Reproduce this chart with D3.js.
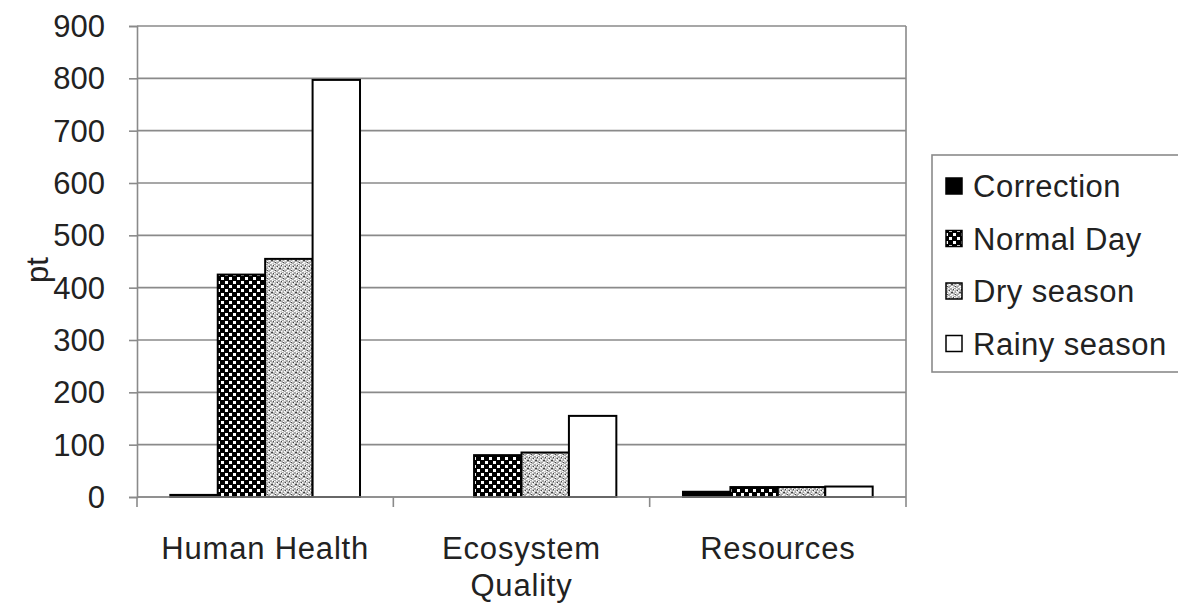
<!DOCTYPE html>
<html><head><meta charset="utf-8">
<script src="https://cdn.jsdelivr.net/npm/d3@7"></script>
<style>body{margin:0;background:#fff}svg{display:block}text{font-family:"Liberation Sans",Arial,sans-serif;fill:#222}</style>
</head><body><svg id="c" width="1178" height="607"></svg>
<script>
const categories = [["Human Health"], ["Ecosystem", "Quality"], ["Resources"]];
const seriesNames = ["Correction", "Normal Day", "Dry season", "Rainy season"];
const correction = [4, 0, 10];
const normalDay = [425, 80, 19];
const drySeason = [455, 85, 19];
const rainySeason = [797, 155, 20];
const yTicks = [0, 100, 200, 300, 400, 500, 600, 700, 800, 900];
const yLabel = "pt";

const seriesValues = [correction, normalDay, drySeason, rainySeason];
const fills = ["#000", "url(#checker)", "url(#speck)", "#fff"];

const svg = d3.select("#c");
const defs = svg.append("defs");
const pc = defs.append("pattern").attr("id","checker").attr("patternUnits","userSpaceOnUse").attr("width",8).attr("height",8);
pc.append("rect").attr("width",8).attr("height",8).attr("fill","#000");
pc.append("rect").attr("x",1).attr("y",1).attr("width",3).attr("height",3).attr("fill","#fff");
pc.append("rect").attr("x",5).attr("y",5).attr("width",3).attr("height",3).attr("fill","#fff");
const ps = defs.append("pattern").attr("id","speck").attr("patternUnits","userSpaceOnUse").attr("width",8).attr("height",8);
ps.append("rect").attr("width",8).attr("height",8).attr("fill","#a8a8a8");
[[0,0],[2,1],[4,0],[6,2],[1,3],[5,4],[3,5],[7,6],[0,6],[2,7],[6,7],[4,3]].forEach(([x,y])=>ps.append("rect").attr("x",x).attr("y",y).attr("width",1.5).attr("height",1.5).attr("fill","#fff"));
[[1,1],[5,2],[3,6],[7,4],[0,4]].forEach(([x,y])=>ps.append("rect").attr("x",x).attr("y",y).attr("width",1).attr("height",1).attr("fill","#444"));

const L = 137, R = 906, T = 26, B = 497;
const x0 = d3.scaleBand().domain(d3.range(categories.length)).range([L, R]).paddingInner(0.26).paddingOuter(0.13);
const x1 = d3.scaleBand().domain(d3.range(seriesNames.length)).range([0, x0.bandwidth()]);
const y = d3.scaleLinear().domain([0, 900]).range([B, T]);

// gridlines
svg.append("g").selectAll("line").data(yTicks).join("line")
  .attr("x1", L).attr("x2", R).attr("y1", d=>y(d)).attr("y2", d=>y(d))
  .attr("stroke", "#8a8a8a").attr("stroke-width", 1.6);
// right border
svg.append("line").attr("x1",R).attr("x2",R).attr("y1",T).attr("y2",B).attr("stroke","#8a8a8a").attr("stroke-width",1.6);

// bars
const g = svg.append("g");
categories.forEach((c, ci) => {
  seriesValues.forEach((vals, si) => {
    const v = vals[ci];
    if (v <= 0) return;
    g.append("rect")
      .attr("x", x0(ci) + x1(si)).attr("y", y(v))
      .attr("width", x1.bandwidth()).attr("height", y(0) - y(v))
      .attr("fill", fills[si]).attr("stroke", "#000").attr("stroke-width", 2);
  });
});

// y axis
const ya = svg.append("g").attr("transform", `translate(${L},0)`)
  .call(d3.axisLeft(y).tickValues(yTicks).tickSize(8).tickPadding(24));
ya.select(".domain").attr("stroke","#8a8a8a").attr("stroke-width",1.6);
ya.selectAll(".tick line").attr("stroke","#8a8a8a").attr("stroke-width",1.6);
ya.selectAll(".tick text").attr("font-size",31).attr("font-family","Liberation Sans, Arial, sans-serif").attr("fill","#222").attr("dy","0.34em");

// x axis ticks at category boundaries
const bounds = d3.range(categories.length + 1).map(i => L + i * x0.step());
svg.append("line").attr("x1",L).attr("x2",R).attr("y1",B).attr("y2",B).attr("stroke","#8a8a8a").attr("stroke-width",1.6);
svg.append("g").selectAll("line").data(bounds).join("line")
  .attr("x1", d=>d).attr("x2", d=>d).attr("y1", B).attr("y2", B + 10)
  .attr("stroke", "#8a8a8a").attr("stroke-width", 1.6);

// x labels
categories.forEach((lines, ci) => {
  const cx = x0(ci) + x0.bandwidth() / 2;
  lines.forEach((t, li) => {
    svg.append("text").attr("x", cx).attr("y", 559 + li * 37).attr("text-anchor","middle")
      .attr("font-size", 31).attr("letter-spacing", 0.8).text(t);
  });
});

// y label
svg.append("text").attr("transform","translate(48,270) rotate(-90)").attr("text-anchor","middle")
  .attr("font-size", 31).text(yLabel);

// legend
svg.append("rect").attr("x",932).attr("y",155).attr("width",250).attr("height",217)
  .attr("fill","#fff").attr("stroke","#8a8a8a").attr("stroke-width",1.6);
seriesNames.forEach((n, i) => {
  const cy = 186 + i * 52.5;
  svg.append("rect").attr("x",946).attr("y",cy-8).attr("width",16).attr("height",16)
    .attr("fill", fills[i]).attr("stroke","#000").attr("stroke-width",1.5);
  svg.append("text").attr("x",973).attr("y",cy).attr("dy","0.36em").attr("font-size",31).attr("letter-spacing",0.5).text(n);
});
</script></body></html>
